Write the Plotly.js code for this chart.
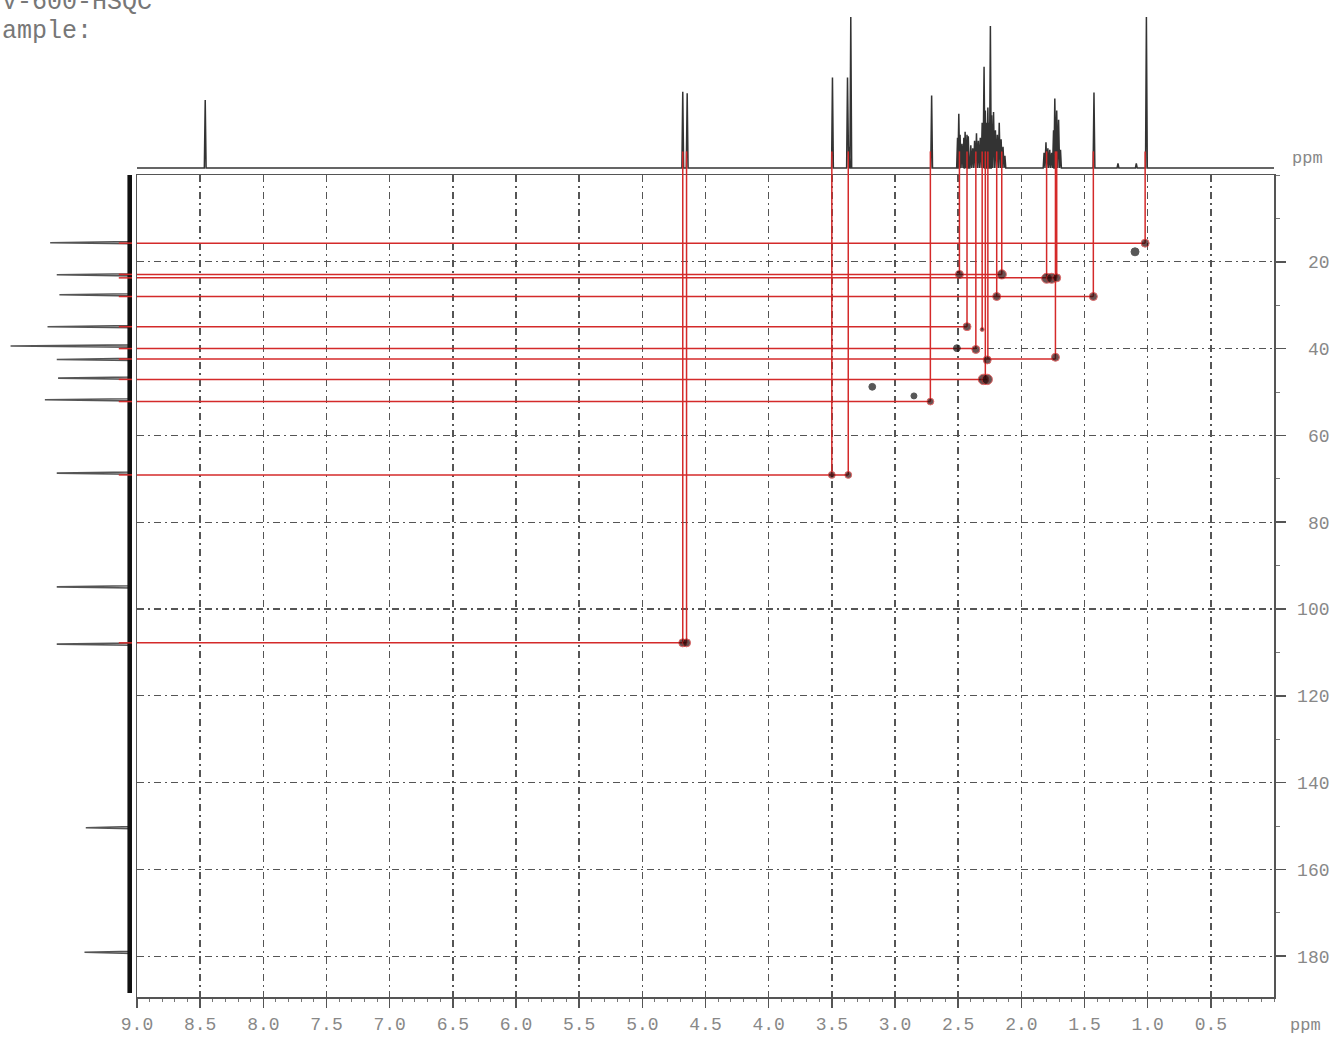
<!DOCTYPE html>
<html><head><meta charset="utf-8">
<script src="https://cdn.plot.ly/plotly-3.0.1.min.js"></script>
<style>html,body{margin:0;padding:0;background:#fff}#chart{width:1334px;height:1038px}</style>
</head><body><div id="chart"></div>
<script>
// ---- 1H projection (top): peak positions (ppm) and relative heights ----
const hPeakPpm = [8.46, 4.68, 4.645, 3.495, 3.376, 3.35, 3.36, 2.71,
  2.505, 2.495, 2.485, 2.47, 2.455, 2.445, 2.43, 2.42, 2.40, 2.385, 2.37, 2.355, 2.34, 2.325,
  2.31, 2.295, 2.285, 2.275, 2.265, 2.255, 2.245, 2.235, 2.22, 2.205, 2.19, 2.175, 2.16, 2.145, 2.13,
  1.82, 1.805, 1.79, 1.775, 1.76, 1.745, 1.735, 1.72, 1.705, 1.69,
  1.425, 1.235, 1.09, 1.01];
const hPeakHeight = [0.45, 0.505, 0.495, 0.60, 0.60, 1.0, 0.14, 0.48,
  0.20, 0.36, 0.22, 0.16, 0.20, 0.24, 0.22, 0.21, 0.15, 0.13, 0.18, 0.23, 0.18, 0.20,
  0.30, 0.67, 0.38, 0.30, 0.40, 0.30, 0.94, 0.35, 0.37, 0.25, 0.22, 0.30, 0.19, 0.14, 0.08,
  0.10, 0.17, 0.13, 0.12, 0.10, 0.25, 0.46, 0.38, 0.32, 0.12,
  0.50, 0.03, 0.03, 1.0];

// ---- 13C projection (left): peak positions (ppm) and relative heights ----
const cPeakPpm = [15.6, 23.0, 27.6, 34.95, 39.4, 42.5, 46.8, 51.8, 68.7, 94.9, 108.1, 150.4, 179.1];
const cPeakHeight = [0.62, 0.57, 0.55, 0.64, 0.92, 0.57, 0.56, 0.66, 0.57, 0.57, 0.57, 0.35, 0.36];

// ---- HSQC cross peaks correlated by red lines (1H ppm, 13C ppm, relative size) ----
const crossH = [1.02, 2.49, 2.155, 1.80, 1.76, 1.72, 2.195, 1.43, 2.43, 2.31, 2.36, 2.27, 1.73, 2.30, 2.27, 2.72, 3.50, 3.37, 4.68, 4.65];
const crossC = [15.7, 22.9, 22.9, 23.8, 23.8, 23.7, 28.0, 28.0, 34.95, 35.6, 40.2, 42.6, 42.0, 47.1, 47.1, 52.2, 69.1, 69.1, 107.8, 107.8];
const crossSize = [2, 2, 2.3, 2.5, 2.5, 2, 2, 2, 2, 1, 2, 2, 2, 2.6, 2.6, 1.7, 1.7, 1.7, 2, 2];

// ---- uncorrelated cross peaks (black) ----
const extraH = [1.10, 2.51, 3.18, 2.85];
const extraC = [17.7, 39.9, 48.8, 50.9];
const extraSize = [2, 1.7, 1.7, 1.5];

// ---- red correlation lines ----
const hLineC = [15.7, 22.9, 23.7, 28.0, 34.95, 40.0, 42.4, 47.1, 52.2, 69.1, 107.8];
const hLineEndH = [1.02, 2.155, 1.72, 1.43, 2.43, 2.36, 1.73, 2.27, 2.72, 3.37, 4.65];
const vLineH = [4.68, 4.65, 3.50, 3.37, 2.72, 2.49, 2.43, 2.36, 2.31, 2.285, 2.265, 2.195, 2.155, 1.80, 1.73, 1.72, 1.43, 1.02];
const vLineEndC = [107.8, 107.8, 69.1, 69.1, 52.2, 22.9, 34.95, 40.0, 35.6, 47.1, 42.4, 28.0, 22.9, 23.7, 42.4, 23.7, 28.0, 15.7];

// ---- axis ticks ----
const xTickVals = [9.0, 8.5, 8.0, 7.5, 7.0, 6.5, 6.0, 5.5, 5.0, 4.5, 4.0, 3.5, 3.0, 2.5, 2.0, 1.5, 1.0, 0.5];
const yTickVals = [20, 40, 60, 80, 100, 120, 140, 160, 180];
const hRange = [9.0, 0.0];
const cRange = [189.4, 0];

const W = 1334, H = 1038;
const RED = '#d42a2a';
const MONO = 'Liberation Mono, Courier New, monospace';

// 1H trace
const hw = 0.007;
const ord = hPeakPpm.map((p, i) => i).sort((a, b) => hPeakPpm[b] - hPeakPpm[a]);
const hx = [hRange[0]], hy = [0];
ord.forEach(i => { hx.push(hPeakPpm[i] + hw, hPeakPpm[i], hPeakPpm[i] - hw); hy.push(0, hPeakHeight[i], 0); });
hx.push(hRange[1]); hy.push(0);

// 13C trace
const cw = 0.25;
const cx = [0], cy = [0];
cPeakPpm.forEach((c, i) => { cx.push(0, cPeakHeight[i], 0); cy.push(c - cw, c, c + cw); });
cx.push(0); cy.push(188.5);

// red lines main
const rx = [], ry = [];
hLineC.forEach((c, i) => { rx.push(hRange[0], hLineEndH[i], null); ry.push(c, c, null); });
vLineH.forEach((h, i) => { rx.push(h, h, null); ry.push(0, vLineEndC[i], null); });
// red lines into 1H projection
const rtx = [], rty = [];
vLineH.forEach(h => { rtx.push(h, h, null); rty.push(-0.05, 0.11, null); });
// red lines into 13C projection
const rcx = [], rcy = [];
hLineC.forEach(c => { rcx.push(0, 0.1, null); rcy.push(c, c, null); });

const traces = [
  {type:'scatter', mode:'lines', x:hx, y:hy, xaxis:'x2', yaxis:'y2', line:{color:'#333', width:1.5}, hoverinfo:'skip'},
  {type:'scatter', mode:'lines', x:rtx, y:rty, xaxis:'x2', yaxis:'y2', line:{color:RED, width:1.5}, hoverinfo:'skip'},
  {type:'scatter', mode:'lines', x:cx, y:cy, xaxis:'x3', yaxis:'y3', line:{color:'#555', width:1.6}, hoverinfo:'skip'},
  {type:'scatter', mode:'lines', x:[0.012, 0.012], y:[0, 188.5], xaxis:'x3', yaxis:'y3', line:{color:'#111', width:6}, hoverinfo:'skip'},
  {type:'scatter', mode:'lines', x:rcx, y:rcy, xaxis:'x3', yaxis:'y3', line:{color:RED, width:1.5}, hoverinfo:'skip'},
  {type:'scatter', mode:'lines', x:rx, y:ry, xaxis:'x', yaxis:'y', line:{color:RED, width:1.5}, hoverinfo:'skip'},
  {type:'scatter', mode:'markers', x:crossH, y:crossC, xaxis:'x', yaxis:'y',
   marker:{size:crossSize.map(s => 4 * s), color:'#2a0808', line:{color:RED, width:1}}},
  {type:'scatter', mode:'markers', x:extraH, y:extraC, xaxis:'x', yaxis:'y',
   marker:{size:extraSize.map(s => 4 * s), color:'#111', line:{color:'#111', width:1}}}
];

const xDom = [137 / W, 1274 / W];
const yDom = [(H - 997) / H, (H - 175) / H];
const layout = {
  width: W, height: H, margin:{l:0, r:0, t:0, b:0},
  paper_bgcolor:'#fff', plot_bgcolor:'rgba(0,0,0,0)', showlegend:false,
  font:{family:MONO, color:'#888', size:18},
  xaxis:{domain:xDom, range:hRange, anchor:'y', tickmode:'array', tickvals:xTickVals,
    ticktext:xTickVals.map(v => v.toFixed(1)), ticks:'outside', ticklen:9, tickwidth:1.5, tickcolor:'#555',
    showline:true, linecolor:'#555', linewidth:1.5, mirror:true,
    showgrid:true, gridcolor:'#555', gridwidth:1.4, griddash:'7px,4px,2px,4px', zeroline:false,
    minor:{tickmode:'linear', tick0:0, dtick:0.1, ticks:'outside', ticklen:3, tickwidth:1, tickcolor:'#777', showgrid:false},
    ticklabelstandoff:1, tickfont:{family:MONO, size:18, color:'#888'}},
  yaxis:{domain:yDom, range:cRange, anchor:'x', side:'right', tickmode:'array', tickvals:yTickVals,
    ticktext:yTickVals.map(v => (v < 100 ? ' ' : '') + v),
    ticks:'outside', ticklen:10, tickwidth:1.5, tickcolor:'#555',
    showline:true, linecolor:'#555', linewidth:1.5, mirror:true,
    showgrid:true, gridcolor:'#555', gridwidth:1.4, griddash:'7px,4px,2px,4px', zeroline:false,
    minor:{tickmode:'linear', tick0:0, dtick:10, ticks:'outside', ticklen:4, tickwidth:1, tickcolor:'#777', showgrid:false},
    ticklabelstandoff:8, tickfont:{family:MONO, size:18, color:'#888'}},
  xaxis2:{domain:xDom, range:hRange, anchor:'y2', visible:false},
  yaxis2:{domain:[(H - 175) / H, (H - 12) / H], range:[-0.0464, 1.0331], anchor:'x2', visible:false},
  xaxis3:{domain:[0, 132 / W], range:[1, 0], anchor:'y3', visible:false},
  yaxis3:{domain:yDom, range:cRange, anchor:'x3', visible:false},
  annotations:[
    {xref:'paper', yref:'paper', x:0, y:(H - 2) / H, xanchor:'left', yanchor:'middle', showarrow:false,
     text:'V-600-HSQC', font:{family:MONO, size:25, color:'#777'}},
    {xref:'paper', yref:'paper', x:0, y:(H - 31) / H, xanchor:'left', yanchor:'middle', showarrow:false,
     text:'ample:', font:{family:MONO, size:25, color:'#777'}},
    {xref:'paper', yref:'paper', x:1307 / W, y:(H - 158) / H, xanchor:'center', yanchor:'middle', showarrow:false,
     text:'ppm', font:{family:MONO, size:17, color:'#888'}},
    {xref:'paper', yref:'paper', x:1305 / W, y:(H - 1025) / H, xanchor:'center', yanchor:'middle', showarrow:false,
     text:'ppm', font:{family:MONO, size:17, color:'#888'}}
  ]
};
Plotly.newPlot('chart', traces, layout, {staticPlot:true, displayModeBar:false});
</script></body></html>
